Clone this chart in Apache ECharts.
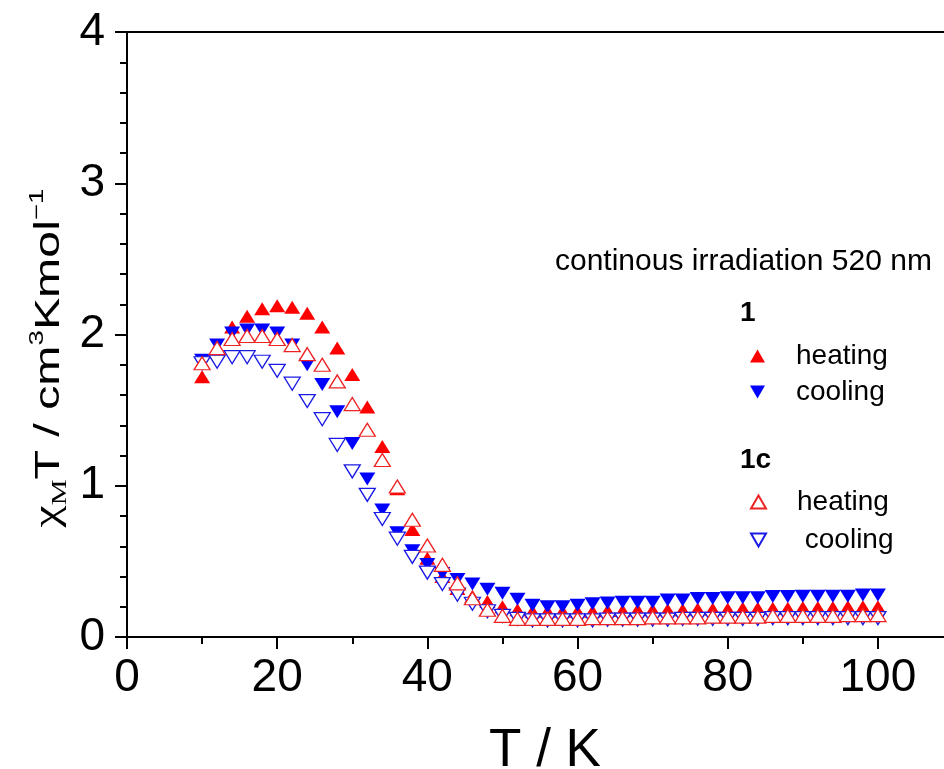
<!DOCTYPE html>
<html>
<head>
<meta charset="utf-8">
<script src="https://cdn.jsdelivr.net/npm/echarts@6/dist/echarts.min.js"></script>
<style>
html,body{margin:0;padding:0;background:#fff;}
#chart{width:944px;height:769px;}
</style>
</head>
<body>
<div id="chart"></div>
<script>
// Temperature (K)
const temps = [10,12,14,16,18,20,22,24,26,28,30,32,34,36,38,40,42,44,46,48,50,52,54,56,58,60,62,64,66,68,70,72,74,76,78,80,82,84,86,88,90,92,94,96,98,100];
// 1 heating (filled red up-triangles)
const heat1 = [1.72,1.91,2.05,2.12,2.17,2.19,2.18,2.14,2.05,1.91,1.735,1.52,1.26,0.98,0.71,0.52,0.40,0.32,0.27,0.235,0.20,0.18,0.17,0.17,0.17,0.17,0.17,0.175,0.175,0.18,0.18,0.18,0.18,0.185,0.185,0.185,0.19,0.19,0.19,0.19,0.195,0.195,0.195,0.20,0.20,0.20];
// 1 cooling (filled blue down-triangles)
const cool1 = [1.83,1.93,2.01,2.03,2.03,2.01,1.93,1.80,1.67,1.49,1.28,1.045,0.84,0.69,0.57,0.48,0.42,0.38,0.35,0.315,0.29,0.25,0.21,0.20,0.20,0.21,0.22,0.225,0.23,0.23,0.23,0.245,0.245,0.255,0.255,0.26,0.26,0.26,0.267,0.267,0.27,0.27,0.27,0.27,0.278,0.278];
// 1c heating (open red up-triangles)
const heat1c = [1.81,1.91,1.97,1.99,1.99,1.97,1.93,1.87,1.80,1.69,1.54,1.37,1.17,0.995,0.775,0.605,0.477,0.355,0.256,0.18,0.14,0.12,0.12,0.12,0.12,0.12,0.125,0.125,0.125,0.125,0.13,0.13,0.13,0.13,0.135,0.135,0.135,0.135,0.14,0.14,0.14,0.14,0.14,0.145,0.145,0.145];
// 1c cooling (open blue down-triangles)
const cool1c = [1.81,1.82,1.85,1.85,1.82,1.76,1.675,1.56,1.44,1.27,1.095,0.94,0.78,0.65,0.53,0.426,0.35,0.28,0.22,0.17,0.14,0.12,0.11,0.11,0.11,0.11,0.11,0.115,0.115,0.115,0.115,0.115,0.12,0.12,0.12,0.12,0.12,0.12,0.125,0.125,0.125,0.125,0.125,0.125,0.125,0.125];

const xTicks = [0,20,40,60,80,100];
const yTicks = [0,1,2,3,4];

const FONT = "'Liberation Sans', Arial, sans-serif";
const SERIF = "'Liberation Serif', 'Times New Roman', serif";
const DOWN = 'path://M0,0L2,0L1,1.732Z';

function pairs(ys){ return temps.map((t,i)=>[t, ys[i]]); }

const chart = echarts.init(document.getElementById('chart'), null, {renderer:'canvas'});

const option = {
  animation: false,
  backgroundColor: '#fff',
  grid: {left:127, top:32, right:-9, bottom:132, show:true, borderColor:'#000', borderWidth:2,
    backgroundColor:'transparent', containLabel:false, outerBoundsMode:'none'},
  xAxis: {
    type:'value', min:0, max:110, interval:20,
    name:'T / K', nameLocation:'middle', nameGap:88,
    nameTextStyle:{fontSize:53, fontFamily:FONT, color:'#000', padding:[0,0,0,10]},
    axisLine:{show:true, onZero:false, lineStyle:{color:'#000', width:2}},
    axisTick:{show:true, inside:false, length:12, lineStyle:{color:'#000', width:2}},
    minorTick:{show:true, splitNumber:2, length:7, lineStyle:{color:'#000', width:2}},
    splitLine:{show:false},
    axisLabel:{fontSize:46, fontFamily:FONT, color:'#000', margin:18, showMaxLabel:false,
      formatter: v => xTicks.indexOf(v) >= 0 ? String(v) : ''}
  },
  yAxis: {
    type:'value', min:0, max:4, interval:1,
    axisLine:{show:true, lineStyle:{color:'#000', width:2}},
    axisTick:{show:true, inside:false, length:12, lineStyle:{color:'#000', width:2}},
    minorTick:{show:true, splitNumber:5, length:7, lineStyle:{color:'#000', width:2}},
    splitLine:{show:false},
    axisLabel:{fontSize:46, fontFamily:FONT, color:'#000', margin:22,
      formatter: v => yTicks.indexOf(v) >= 0 ? String(v) : ''}
  },
  legend: [
    {
      data:['1 heating','1 cooling'], orient:'vertical', left:745, top:333,
      itemWidth:15, itemHeight:13, itemGap:0, selectedMode:false,
      formatter: n => '{p|' + n.replace('1 ','') + '}',
      textStyle:{fontSize:28, fontFamily:FONT, color:'#000', lineHeight:36,
        rich:{p:{fontSize:28, fontFamily:FONT, color:'#000', lineHeight:36, padding:[0,0,0,26]}}}
    },
    {
      data:['1c heating','1c cooling'], orient:'vertical', left:745, top:478,
      itemWidth:15, itemHeight:13, itemGap:0, selectedMode:false,
      formatter: n => '{p|' + (n === '1c cooling' ? ' cooling' : 'heating') + '}',
      textStyle:{fontSize:28, fontFamily:FONT, color:'#000', lineHeight:38,
        rich:{p:{fontSize:28, fontFamily:FONT, color:'#000', lineHeight:38, padding:[0,0,0,26]}}}
    }
  ],
  graphic: [
    {type:'text', x:555, y:262, style:{text:'continous irradiation 520 nm', font:"30px 'Liberation Sans', Arial, sans-serif", fill:'#000', align:'left', verticalAlign:'middle'}},
    {type:'text', x:740, y:313, style:{text:'1', font:"bold 28px 'Liberation Sans', Arial, sans-serif", fill:'#000', align:'left', verticalAlign:'middle'}},
    {type:'text', x:740, y:460, style:{text:'1c', font:"bold 28px 'Liberation Sans', Arial, sans-serif", fill:'#000', align:'left', verticalAlign:'middle'}},
    {type:'text', x:49, y:358, rotation:Math.PI/2, scaleX:1.38, scaleY:1,
      style:{
        text:'{x|χ}{s|M}{a|T / cm}{p|3}{a|Kmol}{p|−1}',
        align:'center', verticalAlign:'middle', fill:'#000',
        rich:{
          x:{fontSize:36, fontFamily:SERIF, fill:'#000', lineHeight:44, verticalAlign:'middle'},
          a:{fontSize:35, fontFamily:FONT, fill:'#000', lineHeight:44, verticalAlign:'middle'},
          s:{fontSize:21, fontFamily:SERIF, fill:'#000', lineHeight:20, verticalAlign:'bottom'},
          p:{fontSize:20, fontFamily:FONT, fill:'#000', lineHeight:22, verticalAlign:'top'}
        }
      }}
  ],
  series: [
    {name:'1 heating', type:'scatter', data:pairs(heat1), symbol:'triangle', symbolSize:[16,13], z:2,
      itemStyle:{color:'#ff0000', opacity:1}},
    {name:'1 cooling', type:'scatter', data:pairs(cool1), symbol:DOWN, symbolSize:[16,13], z:3,
      itemStyle:{color:'#0000ff', opacity:1}},
    {name:'1c cooling', type:'scatter', data:pairs(cool1c), symbol:DOWN, symbolSize:[16,13], z:4,
      itemStyle:{color:'#ffffff', borderColor:'#1a1ae6', borderWidth:1.3, opacity:1}},
    {name:'1c heating', type:'scatter', data:pairs(heat1c), symbol:'triangle', symbolSize:[16,13], z:5,
      itemStyle:{color:'#ffffff', borderColor:'#ee2222', borderWidth:1.3, opacity:1}}
  ]
};
chart.setOption(option);
</script>
</body>
</html>
